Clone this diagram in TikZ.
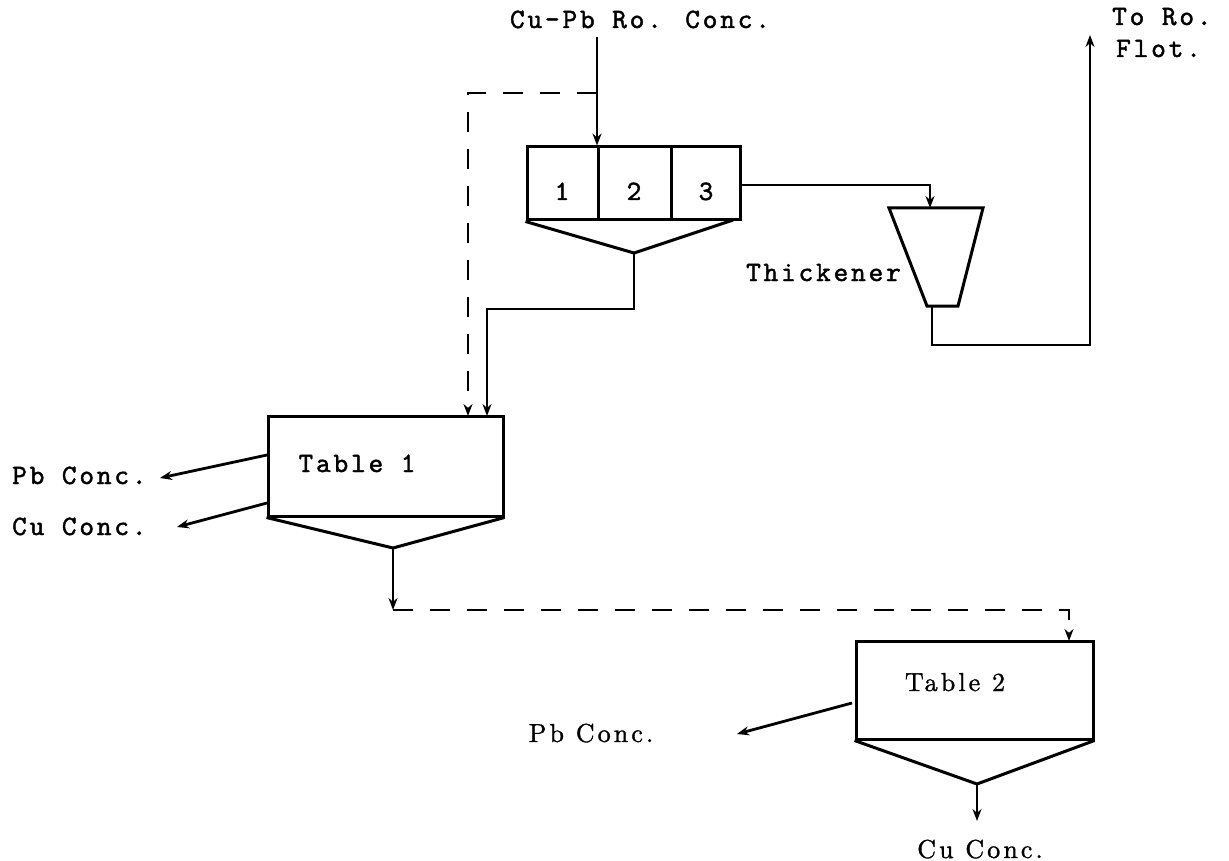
\documentclass[tikz,border=0pt]{standalone}
\usepackage{fontspec}
\usetikzlibrary{arrows.meta}
% typewriter face for most labels, spaced like the original typing
\newfontfamily\typewriter{lmmono10-regular}[Extension=.otf,LetterSpace=10,FakeBold=1.5]
% proportional face used round Table 2
\newfontfamily\pressroman{lmroman10-regular}[Extension=.otf,LetterSpace=12,FakeBold=1.2]
\tikzset{
  flow/.style={line width=2.8pt},
  feed/.style={flow,-{Stealth[length=12pt,width=9pt]}},
  recycle/.style={flow,dash pattern=on 20pt off 17pt,-{Stealth[length=12pt,width=9pt]}},
  unitbox/.style={draw,line width=3pt,rectangle,inner sep=0pt},
  unitline/.style={line width=3pt,line join=miter},
  tw/.style={font=\typewriter\fontsize{28}{32}\selectfont,inner sep=0pt},
  pr/.style={font=\pressroman\fontsize{26}{30}\selectfont,inner sep=0pt}
}
\begin{document}
\begin{tikzpicture}[x=1pt,y=-1pt]
\useasboundingbox (0,0) rectangle (1229,861);

% ---- flotation cells 1-2-3 ----
\node[unitbox,minimum width=213pt,minimum height=73pt] (cells) at (633.5,183.5) {};
\coordinate (d1t) at (598,147); \coordinate (d1b) at (598,220);
\coordinate (d2t) at (671,147); \coordinate (d2b) at (671,220);
\draw[unitline] (d1t) -- (d1b);
\draw[unitline] (d2t) -- (d2b);
\node[tw,anchor=base] (n1) at (562,200) {1};
\node[tw,anchor=base] (n2) at (634,200) {2};
\node[tw,anchor=base] (n3) at (706,200) {3};
\coordinate (capex) at (634,253);
\coordinate (chr) at (733,220);
\draw[unitline] (cells.south west) -- (capex) -- (chr);

% ---- feed ----
\node[tw,anchor=base] (feedlbl) at (640,28) {Cu-Pb Ro. Conc.};
\coordinate (feedtop) at (597,37);
\coordinate (split) at (597,93);
\draw[feed] (feedtop) -- (feedtop |- cells.north);

% ---- Table 1 ----
\node[unitbox,minimum width=235pt,minimum height=100pt] (t1) at (385.5,466) {};
\node[tw,anchor=base] (t1lbl) at (357,472) {Table 1};
\coordinate (t1apex) at (393,548);
\draw[unitline] (t1.south west) -- (t1apex) -- (t1.south east);
\coordinate (t1a) at (468,416);
\coordinate (t1b) at (487,416);

% recycle to Table 1 (dashed) and cell tailing to Table 1
\draw[recycle] (split) -| (t1a);
\coordinate (j1) at (634,309);
\draw[feed] (capex) -- (j1) -| (t1b);

% Table 1 products
\coordinate (t1pb) at (267,455);
\coordinate (t1cu) at (267,503);
\coordinate (pbtip1) at (160,478);
\coordinate (cutip1) at (177,527);
\node[tw,anchor=base west] (pb1) at (12,484) {Pb Conc.};
\node[tw,anchor=base west] (cu1) at (12,535) {Cu Conc.};
\draw[feed] (t1pb) -- (pbtip1);
\draw[feed] (t1cu) -- (cutip1);

% ---- Table 2 ----
\node[unitbox,minimum width=237pt,minimum height=98pt] (t2) at (974.5,690) {};
\node[pr,anchor=base] (t2lbl) at (955,691) {Table 2};
\coordinate (t2apex) at (977,784);
\draw[unitline] (t2.south west) -- (t2apex) -- (t2.south east);
\coordinate (t1tail) at (393,610);
\coordinate (t2in) at (1069,641);
\draw[feed] (t1apex) -- (t1tail);
\draw[recycle] (t1tail) -| (t2in);

% Table 2 products
\coordinate (t2pb) at (852,703);
\coordinate (pbtip2) at (737,734);
\coordinate (cutip2) at (977,821);
\node[pr,anchor=base] (pb2) at (591,742) {Pb Conc.};
\node[pr,anchor=base] (cu2) at (980,858) {Cu Conc.};
\draw[feed] (t2pb) -- (pbtip2);
\draw[feed] (t2apex) -- (cutip2);

% ---- Thickener ----
\coordinate (thTL) at (889,208);
\coordinate (thTR) at (983,208);
\coordinate (thBR) at (958,306);
\coordinate (thBL) at (927,306);
\draw[unitline] (thTL) -- (thTR) -- (thBR) -- (thBL) -- cycle;
\node[tw,anchor=base east] (thlbl) at (901,281) {Thickener};
\coordinate (c3out) at (740,185);
\coordinate (thin) at (930,208);
\draw[feed] (c3out) -| (thin);

% thickener underflow back to rougher flotation
\coordinate (thout) at (932,306);
\coordinate (j2) at (1090,345);
\coordinate (floto) at (1090,35);
\draw[feed] (thout) |- (j2) -- (floto);
\node[tw,anchor=base west] (toro) at (1112,25) {To Ro.};
\node[tw,anchor=base west] (flot) at (1116,57) {Flot.};
\end{tikzpicture}
\end{document}
